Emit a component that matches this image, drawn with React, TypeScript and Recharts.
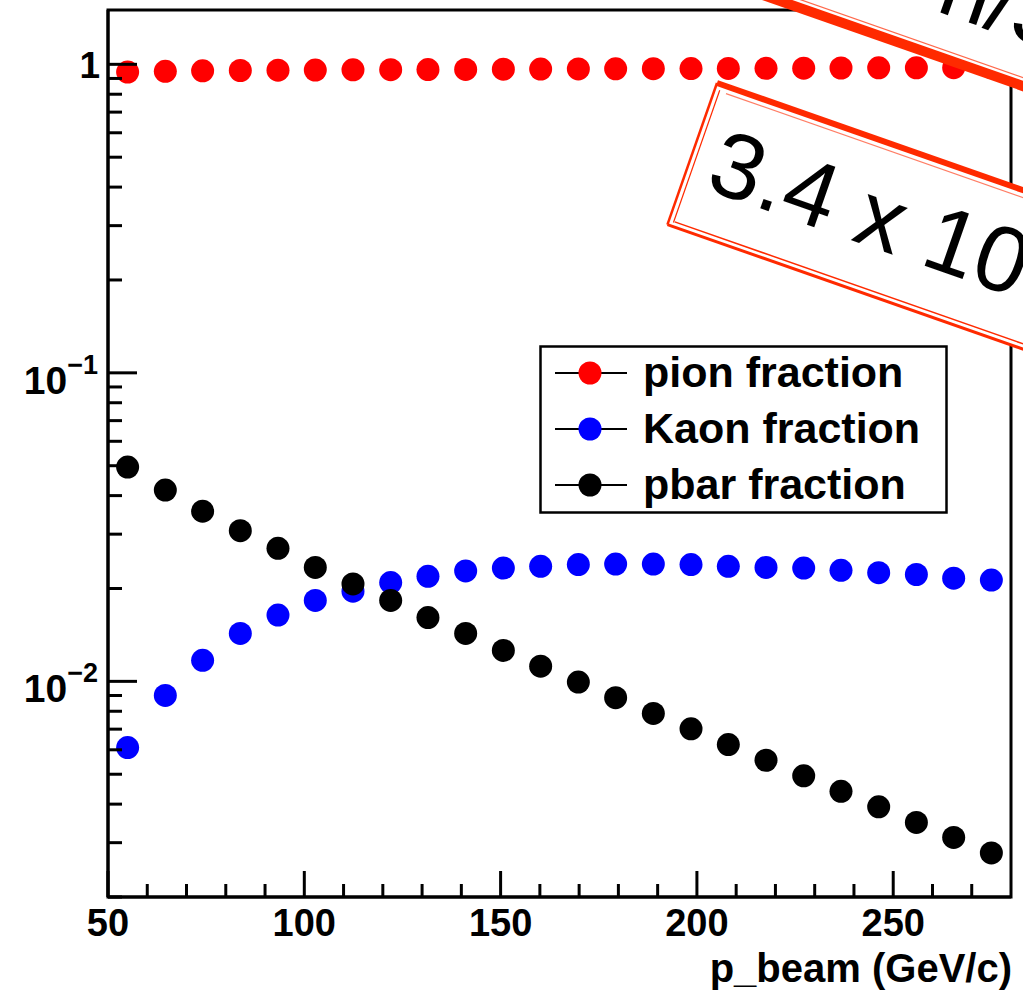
import React from "react"
import {
  ScatterChart,
  Scatter,
  XAxis,
  YAxis,
  Legend,
  ReferenceArea,
} from "recharts"

// beam momentum points (GeV/c)
const pBeam = [
  55, 64.6, 74.1, 83.7, 93.3, 102.8, 112.4, 122, 131.5, 141.1, 150.7, 160.2,
  169.8, 179.3, 188.9, 198.5, 208, 217.6, 227.2, 236.7, 246.3, 255.9, 265.4, 275,
]

const pionFraction = [
  0.944, 0.949, 0.953, 0.955, 0.957, 0.958, 0.96, 0.961, 0.962, 0.963, 0.964, 0.965,
  0.966, 0.967, 0.968, 0.969, 0.97, 0.971, 0.972, 0.973, 0.974, 0.974, 0.975, 0.976,
]

const kaonFraction = [
  0.0061, 0.009, 0.0117, 0.0143, 0.0164, 0.0183, 0.0196, 0.0209, 0.0219, 0.0228, 0.0233, 0.0236,
  0.0239, 0.024, 0.024, 0.0239, 0.0236, 0.0234, 0.0233, 0.0229, 0.0225, 0.0222, 0.0216, 0.0213,
]

const pbarFraction = [
  0.0495, 0.0417, 0.0356, 0.0308, 0.027, 0.0234, 0.0207, 0.0183, 0.0161, 0.0143, 0.0126, 0.0112,
  0.00995, 0.00885, 0.00787, 0.00702, 0.00624, 0.00555, 0.00494, 0.0044, 0.00392, 0.00349, 0.00312, 0.00278,
]

const xMajorTicks = [50, 100, 150, 200, 250]
const xTicks = [
  50, 60, 70, 80, 90, 100, 110, 120, 130, 140, 150, 160, 170, 180, 190, 200,
  210, 220, 230, 240, 250, 260, 270,
]

const yMajorTicks = [0.01, 0.1, 1]
const yMajorLabels = ["10", "10", "1"]
const yMajorExponents = ["\u22122", "\u22121", ""]
const yTicks = [
  0.002, 0.003, 0.004, 0.005, 0.006, 0.007, 0.008, 0.009, 0.01,
  0.02, 0.03, 0.04, 0.05, 0.06, 0.07, 0.08, 0.09, 0.1,
  0.2, 0.3, 0.4, 0.5, 0.6, 0.7, 0.8, 0.9, 1,
]

const seriesNames = ["pion fraction", "Kaon fraction", "pbar fraction"]
const seriesColors = ["#ff0000", "#0000ff", "#000000"]

const toPoints = (ys: number[]) => pBeam.map((x, i) => ({ x, y: ys[i] }))
const series = [pionFraction, kaonFraction, pbarFraction].map(toPoints)

const FONT = "'Liberation Sans', Arial, Helvetica, sans-serif"

function XTick(props: any) {
  const { x, y, payload } = props
  const v = payload.value
  const major = xMajorTicks.includes(v)
  return (
    <g>
      <line x1={x} x2={x} y1={y} y2={y - (major ? 26 : 13)} stroke="#000" strokeWidth={3} />
      {major && (
        <text x={x} y={y + 39} textAnchor="middle" fontFamily={FONT} fontWeight="bold" fontSize={38} fill="#000">
          {v}
        </text>
      )}
    </g>
  )
}

function YTick(props: any) {
  const { x, y, payload } = props
  const v = payload.value
  const idx = yMajorTicks.findIndex((m) => Math.abs(m - v) < 1e-9)
  const major = idx >= 0
  return (
    <g>
      <line x1={x} x2={x + (major ? 29 : 14)} y1={y} y2={y} stroke="#000" strokeWidth={3} />
      {major && yMajorExponents[idx] === "" && (
        <text x={x - 8} y={y + 14} textAnchor="end" fontFamily={FONT} fontWeight="bold" fontSize={37} fill="#000">
          {yMajorLabels[idx]}
        </text>
      )}
      {major && yMajorExponents[idx] !== "" && (
        <text x={x - 10} y={y + 21} textAnchor="end" fontFamily={FONT} fontWeight="bold" fill="#000">
          <tspan fontSize={39}>{yMajorLabels[idx]}</tspan>
          <tspan fontSize={27} dy={-20}>{yMajorExponents[idx]}</tspan>
        </text>
      )}
    </g>
  )
}

function renderLegend() {
  return (
    <svg width={410} height={170}>
      <rect x={1.5} y={1.5} width={406} height={166} fill="#fff" stroke="#000" strokeWidth={2.5} />
      {seriesNames.map((name, i) => {
        const cy = 28 + i * 56
        return (
          <g key={name}>
            <line x1={16} x2={88} y1={cy} y2={cy} stroke="#000" strokeWidth={2} />
            <circle cx={51} cy={cy} r={11.5} fill={seriesColors[i]} />
            <text x={104} y={cy + 14} fontFamily={FONT} fontWeight="bold" fontSize={43} fill="#000">
              {name}
            </text>
          </g>
        )
      })}
    </svg>
  )
}

const STAMP = "#ff2a00"

function Stamps() {
  return (
    <svg
      width={1023}
      height={990}
      style={{ position: "absolute", left: 0, top: 0, pointerEvents: "none" }}
    >
      {/* upper stamp, mostly off the picture */}
      <g transform="translate(880,36) rotate(19.3)">
        <rect x={-500} y={-200} width={1000} height={200} fill="#fff" />
        <line x1={-500} x2={500} y1={0} y2={0} stroke={STAMP} strokeWidth={10} />
        <line x1={-500} x2={500} y1={-8} y2={-8} stroke={STAMP} strokeWidth={1.2} opacity={0.7} />
        <text x={43} y={-42} fontFamily={FONT} fontSize={90} fill="#000">
          n/S
        </text>
      </g>
      {/* lower stamp */}
      <g transform="translate(717,83) rotate(19.3)">
        <rect x={0} y={0} width={600} height={150} fill="#fff" />
        <line x1={0} x2={600} y1={0} y2={0} stroke={STAMP} strokeWidth={6} />
        <line x1={12} x2={600} y1={7} y2={7} stroke={STAMP} strokeWidth={1.2} opacity={0.6} />
        <line x1={0} x2={600} y1={150} y2={150} stroke={STAMP} strokeWidth={3} />
        <line x1={6} x2={600} y1={145} y2={145} stroke={STAMP} strokeWidth={1.5} />
        <line x1={0} x2={0} y1={0} y2={150} stroke={STAMP} strokeWidth={2.5} />
        <line x1={5} x2={5} y1={6} y2={146} stroke={STAMP} strokeWidth={1.2} />
        <text x={22} y={104} fontFamily={FONT} fontSize={93} fill="#000">
          3.4 x 10
        </text>
      </g>
    </svg>
  )
}

export default function App() {
  return (
    <div
      style={{
        position: "absolute",
        left: 0,
        top: 0,
        width: 1023,
        height: 990,
        background: "#fff",
        overflow: "hidden",
      }}
    >
      <ScatterChart width={1023} height={990} margin={{ top: 10, right: 12, left: 0, bottom: 0 }}>
        <XAxis
          type="number"
          dataKey="x"
          domain={[50, 280]}
          allowDataOverflow
          ticks={xTicks}
          interval={0}
          tickSize={0}
          tickMargin={0}
          tickLine={false}
          tick={<XTick />}
          axisLine={{ stroke: "#000", strokeWidth: 3 }}
          height={93}
        />
        <YAxis
          type="number"
          dataKey="y"
          scale="log"
          domain={[0.002, 1.5]}
          allowDataOverflow
          ticks={yTicks}
          interval={0}
          tickSize={0}
          tickMargin={0}
          tickLine={false}
          tick={<YTick />}
          axisLine={{ stroke: "#000", strokeWidth: 3 }}
          width={108}
        />
        <ReferenceArea x1={50} x2={280} y1={0.002} y2={1.5} fill="none" stroke="#000" strokeWidth={3} />
        {series.map((pts, i) => (
          <Scatter
            key={seriesNames[i]}
            name={seriesNames[i]}
            data={pts}
            isAnimationActive={false}
            shape={(p: any) => <circle cx={p.cx} cy={p.cy} r={11.5} fill={seriesColors[i]} />}
          />
        ))}
        <Legend
          layout="horizontal"
          verticalAlign="middle"
          align="center"
          content={renderLegend}
          wrapperStyle={{ left: 539, top: 345, width: 410, height: 170 }}
        />
      </ScatterChart>
      <div
        style={{
          position: "absolute",
          right: 11,
          top: 947,
          fontFamily: FONT,
          fontWeight: "bold",
          fontSize: 40,
          lineHeight: "42px",
          color: "#000",
          whiteSpace: "nowrap",
        }}
      >
        p_beam (GeV/c)
      </div>
      <Stamps />
    </div>
  )
}
